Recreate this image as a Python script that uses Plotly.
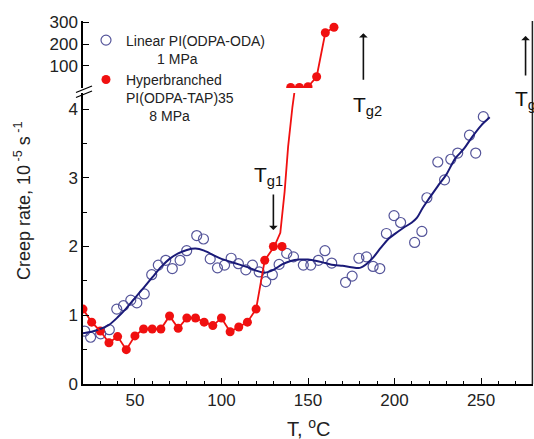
import plotly.graph_objects as go

# ---------------- data ----------------
# Linear PI(ODPA-ODA), 1 MPa: measured points
lin_T = [21, 24.4, 30.2, 35.2, 39.5, 43.4, 47.6, 51.1, 55.4, 59.7, 63.5, 67.8, 71.6, 76.1,
         79.9, 85.7, 89.6, 93.5, 97.7, 101.8, 105.6, 109.8, 114.1, 117.9, 121.8, 125.6,
         129.4, 133.3, 137.7, 141.6, 147.3, 151.6, 156, 159.8, 163.7, 171.7, 175.5, 179.4,
         183.8, 187.6, 191.5, 195.3, 199.7, 203.5, 211.6, 215.8, 218.7, 225, 228.9, 232.5,
         236.5, 243.3, 246.9, 251.3]
lin_rate = [0.77, 0.68, 0.73, 0.79, 1.09, 1.14, 1.22, 1.18, 1.31, 1.59, 1.73, 1.80, 1.68, 1.80,
            1.94, 2.16, 2.11, 1.82, 1.69, 1.73, 1.83, 1.75, 1.66, 1.73, 1.63, 1.49,
            1.59, 1.74, 1.90, 1.85, 1.73, 1.73, 1.80, 1.94, 1.76, 1.48, 1.57, 1.83,
            1.85, 1.71, 1.68, 2.19, 2.45, 2.35, 2.06, 2.22, 2.71, 3.23, 2.97, 3.27,
            3.36, 3.62, 3.36, 3.89]

# Linear PI: smoothed curve
lin_fit_T = [20, 25, 30, 35, 40, 45, 50, 55, 60, 65, 70, 75, 80, 85, 90, 95, 100, 105, 110,
             115, 120, 125, 130, 135, 140, 145, 150, 155, 160, 165, 170, 175, 180, 184, 188,
             192, 196, 200, 205, 210, 213, 216, 220, 225, 230, 235, 240, 245, 250, 255]
lin_fit_rate = [0.74, 0.76, 0.80, 0.86, 0.97, 1.10, 1.25, 1.40, 1.55, 1.70, 1.82, 1.90, 1.95,
                1.97, 1.94, 1.88, 1.82, 1.78, 1.74, 1.70, 1.65, 1.62, 1.66, 1.74, 1.79, 1.81,
                1.81, 1.79, 1.76, 1.73, 1.72, 1.70, 1.69, 1.75, 1.85, 1.98, 2.10, 2.18, 2.27,
                2.35, 2.42, 2.55, 2.70, 2.88, 3.05, 3.28, 3.42, 3.60, 3.76, 3.88]

# Hyperbranched PI(ODPA-TAP)35, 8 MPa: lower scale points
hb_T = [20, 25, 30, 35, 40, 45, 50, 55, 60, 65, 70, 75, 80, 85, 90, 95, 100, 105, 110, 115,
        120, 125, 130, 135]
hb_rate = [1.09, 0.90, 0.77, 0.60, 0.69, 0.50, 0.70, 0.80, 0.80, 0.80, 0.99, 0.81, 0.96, 0.96,
           0.90, 0.85, 0.96, 0.76, 0.83, 0.90, 1.09, 1.80, 2.00, 2.00]
# steep rise of the hyperbranched curve towards the axis break
hb_rise_T = [130.5, 134, 136.5, 138.5, 141, 143]
hb_rise_rate = [2.00, 2.20, 2.80, 3.45, 4.03, 4.40]
# Hyperbranched: upper (broken) scale points
hb_hi_T = [140, 145, 150, 155, 160, 165]
hb_hi_rate = [0, 0, 3, 49, 252, 277]

# glass transition labels
tg_labels = ["T<sub>g1</sub>", "T<sub>g2</sub>", "T<sub>g</sub>"]
tg_T = [130, 182, 275.7]

FONT = "Liberation Sans, Arial, sans-serif"
RED = "#f01010"
NAVY = "#1a1a78"
BLUE_M = "#55559a"
NB = "\u00a0"

fig = go.Figure()

fig.add_trace(go.Scatter(
    x=lin_T, y=lin_rate, mode="markers", xaxis="x", yaxis="y",
    name="Linear PI(ODPA-ODA)<br>" + NB * 8 + "1 MPa",
    marker=dict(symbol="circle-open", size=10, color=BLUE_M, line=dict(width=1.2, color=BLUE_M)),
))
fig.add_trace(go.Scatter(
    x=hb_T, y=hb_rate, mode="markers", xaxis="x", yaxis="y",
    name="Hyperbranched<br>PI(ODPA-TAP)35<br>" + NB * 6 + "8 MPa",
    marker=dict(symbol="circle", size=9, color=RED),
))
fig.add_trace(go.Scatter(
    x=lin_fit_T, y=lin_fit_rate, mode="lines", xaxis="x", yaxis="y", showlegend=False,
    line=dict(color=NAVY, width=2, shape="spline", smoothing=0.8),
))
fig.add_trace(go.Scatter(
    x=hb_T[:22] + hb_rise_T, y=hb_rate[:22] + hb_rise_rate, mode="lines",
    xaxis="x", yaxis="y", showlegend=False,
    line=dict(color=RED, width=1.8),
))
fig.add_trace(go.Scatter(
    x=hb_hi_T, y=hb_hi_rate, mode="lines+markers", xaxis="x", yaxis="y2", showlegend=False,
    line=dict(color=RED, width=1.8),
    marker=dict(symbol="circle", size=9, color=RED),
))

# layout geometry (screen pixels; body margin removed by post_script)
W, H = 534, 439
X0, X1, Y0, Y1 = 83, 533, 21, 384       # plot area on screen
L, T = X0, Y0
R = W - X1
B = H - Y1
pw, ph = X1 - X0, Y1 - Y0


def px(x):
    return (x - X0) / pw


def py(y):
    return (Y1 - y) / ph


axis_common = dict(
    showline=True, linecolor="black", linewidth=1.5, ticks="inside", tickcolor="black",
    tickwidth=1.3, showgrid=False, zeroline=False,
    tickfont=dict(family=FONT, size=17, color="#222"),
)

fig.update_layout(
    width=W, height=H,
    margin=dict(l=L, r=R, t=T, b=B),
    paper_bgcolor="white", plot_bgcolor="white",
    font=dict(family=FONT, color="#222"),
    xaxis=dict(range=[20, 280], tickvals=[50, 100, 150, 200, 250], ticklen=6,
               minor=dict(dtick=10, tick0=0, ticks="inside", ticklen=3, tickcolor="black", tickwidth=1.2),
               anchor="y", **axis_common),
    yaxis=dict(domain=[0, py(93)], range=[0, (384.3 - 93) / 68.8], tickvals=[0, 1, 2, 3, 4],
               ticklen=6, minor=dict(dtick=0.5, tick0=0, ticks="inside", ticklen=4,
                                     tickcolor="black", tickwidth=1.2),
               anchor="x", **axis_common),
    yaxis2=dict(domain=[py(88), 1], range=[-2.8, 306], tickvals=[100, 200, 300], ticklen=6,
                anchor="x", **axis_common),
    legend=dict(x=px(86), y=py(24.5), xanchor="left", yanchor="top", valign="top",
                bgcolor="rgba(0,0,0,0)", font=dict(family=FONT, size=14, color="#222"),
                tracegroupgap=0),
    showlegend=True,
)

# frame on the right and axis break marks
fig.add_shape(type="line", xref="paper", yref="paper", x0=px(532.4), x1=px(532.4), y0=0, y1=1,
              line=dict(color="#222", width=1.5))
for off in (0, 5):
    fig.add_shape(type="line", xref="paper", yref="paper",
                  x0=px(76), y0=py(92.5 + off), x1=px(92), y1=py(86 + off),
                  line=dict(color="black", width=1.3))

# axis titles
fig.add_annotation(text="Creep rate, 10<sup> -5</sup> s<sup> -1</sup>", xref="paper", yref="paper",
                   x=px(22), y=py(200), textangle=-90, showarrow=False,
                   font=dict(family=FONT, size=18, color="#222"), xanchor="center", yanchor="middle")
fig.add_annotation(text="T, <sup>o</sup>C", xref="paper", yref="paper",
                   x=0.5, y=py(427), showarrow=False,
                   font=dict(family=FONT, size=20, color="#222"), xanchor="center", yanchor="middle")

# Tg labels and arrows
fig.add_annotation(text=tg_labels[0], xref="x", yref="y", x=tg_T[0] - 3, y=3.03, showarrow=False,
                   font=dict(family=FONT, size=21, color="#111"))
fig.add_annotation(text="", xref="x", yref="y", x=tg_T[0], y=2.24, ax=0, ay=-37,
                   showarrow=True, arrowhead=1, arrowsize=0.9, arrowwidth=1.6, arrowcolor="#111")
fig.add_annotation(text=tg_labels[1], xref="x", yref="y", x=tg_T[1] + 2.6, y=4.05, showarrow=False,
                   font=dict(family=FONT, size=21, color="#111"))
fig.add_annotation(text="", xref="x", yref="y2", x=tg_T[1], y=250, ax=0, ay=48,
                   showarrow=True, arrowhead=1, arrowsize=0.9, arrowwidth=1.6, arrowcolor="#111")
fig.add_annotation(text=tg_labels[2], xref="x", yref="y", x=tg_T[2] - 7.2, y=4.13, showarrow=False,
                   xanchor="left", font=dict(family=FONT, size=21, color="#111"))
fig.add_annotation(text="", xref="x", yref="y2", x=tg_T[2], y=237, ax=0, ay=41,
                   showarrow=True, arrowhead=1, arrowsize=0.9, arrowwidth=1.6, arrowcolor="#111")

fig.write_html(
    "out.html",
    config={"displayModeBar": False},
    post_script="document.body.style.margin='0px';document.body.style.overflow='hidden';",
)
